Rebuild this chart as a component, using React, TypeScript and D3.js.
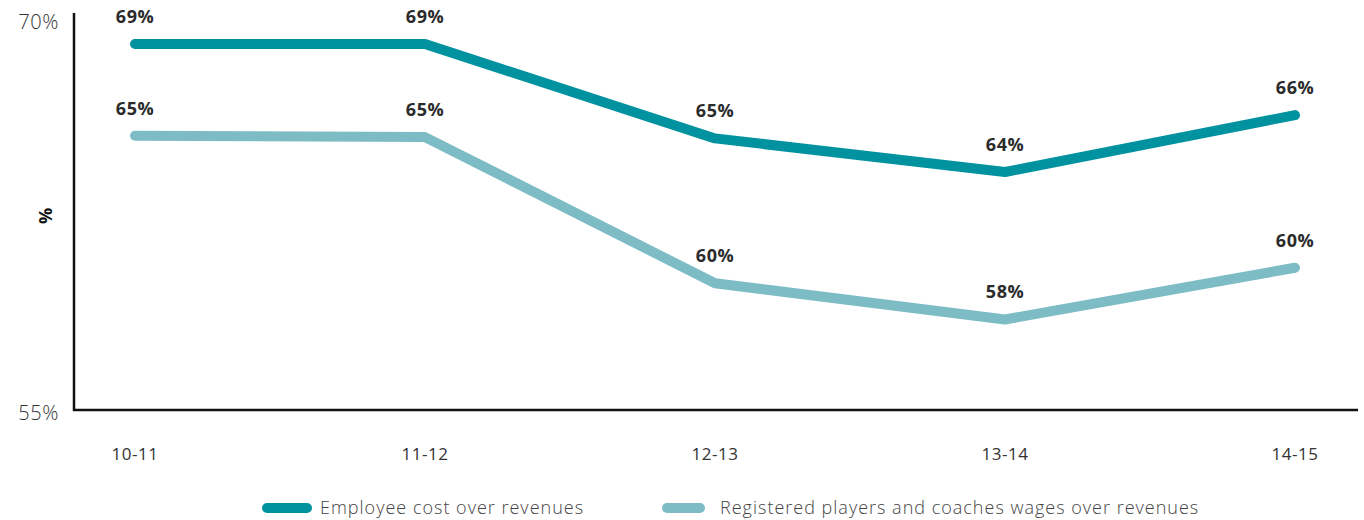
import React, { useEffect, useRef } from 'react';
import * as d3 from 'd3';

const seasons = ['10-11', '11-12', '12-13', '13-14', '14-15'];
const employeeCost = [69.15, 69.15, 65.5, 64.2, 66.4];
const employeeLabels = ['69%', '69%', '65%', '64%', '66%'];
const playerWages = [65.6, 65.55, 59.9, 58.5, 60.5];
const playerLabels = ['65%', '65%', '60%', '58%', '60%'];
const yTicks = [55, 70];
const legendNames = ['Employee cost over revenues', 'Registered players and coaches wages over revenues'];

const W = 1364;
const H = 520;

export default function App() {
  const svgRef = useRef<SVGSVGElement>(null);

  useEffect(() => {
    if (!svgRef.current) return;
    const svg = d3.select(svgRef.current);
    svg.selectAll('*').remove();

    const axisLeft = 74;
    const axisRight = 1358;
    const axisTop = 13;
    const axisBottom = 410;

    const x = d3.scalePoint().domain(seasons).range([135, 1295]);
    const y = d3.scaleLinear().domain([55, 70]).range([410, 22]);

    const colors = ['#00929e', '#7dbcc5'];
    const font = "'Open Sans', sans-serif";

    // axis lines
    svg.append('line')
      .attr('x1', axisLeft).attr('x2', axisLeft)
      .attr('y1', axisTop).attr('y2', axisBottom + 1)
      .attr('stroke', '#111').attr('stroke-width', 2.5);
    svg.append('line')
      .attr('x1', axisLeft - 1).attr('x2', axisRight)
      .attr('y1', axisBottom).attr('y2', axisBottom)
      .attr('stroke', '#111').attr('stroke-width', 2.5);

    // y tick labels
    svg.selectAll('.ytick')
      .data(yTicks)
      .enter()
      .append('text')
      .attr('x', 59)
      .attr('y', d => y(d) + (d === 55 ? 3 : 0))
      .attr('dy', '0.35em')
      .attr('text-anchor', 'end')
      .style('font-family', font)
      .style('font-weight', 300)
      .style('font-size', '20px')
      .style('letter-spacing', '0.6px')
      .style('fill', '#333')
      .text(d => `${d}%`);

    // y axis title
    svg.append('text')
      .attr('transform', 'translate(46,216) rotate(-90)')
      .attr('text-anchor', 'middle')
      .attr('dy', '0.35em')
      .style('font-family', font)
      .style('font-weight', 700)
      .style('font-size', '18px')
      .style('fill', '#111')
      .text('%');

    // x labels
    svg.selectAll('.xlab')
      .data(seasons)
      .enter()
      .append('text')
      .attr('x', d => x(d) || 0)
      .attr('y', 454)
      .attr('dy', '0.35em')
      .attr('text-anchor', 'middle')
      .style('font-family', font)
      .style('font-size', '17px')
      .style('letter-spacing', '0.5px')
      .style('fill', '#333')
      .text(d => d);

    const line = d3.line<number>()
      .x((_, i) => x(seasons[i]) || 0)
      .y(d => y(d));

    const series = [
      { values: playerWages, labels: playerLabels, color: colors[1] },
      { values: employeeCost, labels: employeeLabels, color: colors[0] },
    ];

    series.forEach(s => {
      svg.append('path')
        .datum(s.values)
        .attr('fill', 'none')
        .attr('stroke', s.color)
        .attr('stroke-width', 10)
        .attr('stroke-linecap', 'round')
        .attr('stroke-linejoin', 'round')
        .attr('d', line);

      svg.selectAll(null)
        .data(s.values)
        .enter()
        .append('text')
        .attr('x', (_, i) => x(seasons[i]) || 0)
        .attr('y', d => y(d) - 21)
        .attr('text-anchor', 'middle')
        .style('font-family', font)
        .style('font-weight', 700)
        .style('font-size', '18px')
        .style('letter-spacing', '0.5px')
        .style('fill', '#2b2b2b')
        .text((_, i) => s.labels[i]);
    });

    // legend
    const legendX = [262, 662];
    legendNames.forEach((name, i) => {
      const g = svg.append('g').attr('transform', `translate(${legendX[i]},508)`);
      g.append('line')
        .attr('x1', 5).attr('x2', i === 0 ? 45 : 38)
        .attr('y1', 0).attr('y2', 0)
        .attr('stroke', colors[i])
        .attr('stroke-width', 10)
        .attr('stroke-linecap', 'round');
      g.append('text')
        .attr('x', 58)
        .attr('y', 0)
        .attr('dy', '0.33em')
        .style('font-family', font)
        .style('font-weight', 300)
        .style('font-size', '18px')
        .style('letter-spacing', '1px')
        .style('fill', '#444')
        .text(name);
    });
  }, []);

  return (
    <svg
      ref={svgRef}
      width={W}
      height={H}
      style={{ position: 'absolute', left: 0, top: 0, background: '#fff' }}
    />
  );
}
